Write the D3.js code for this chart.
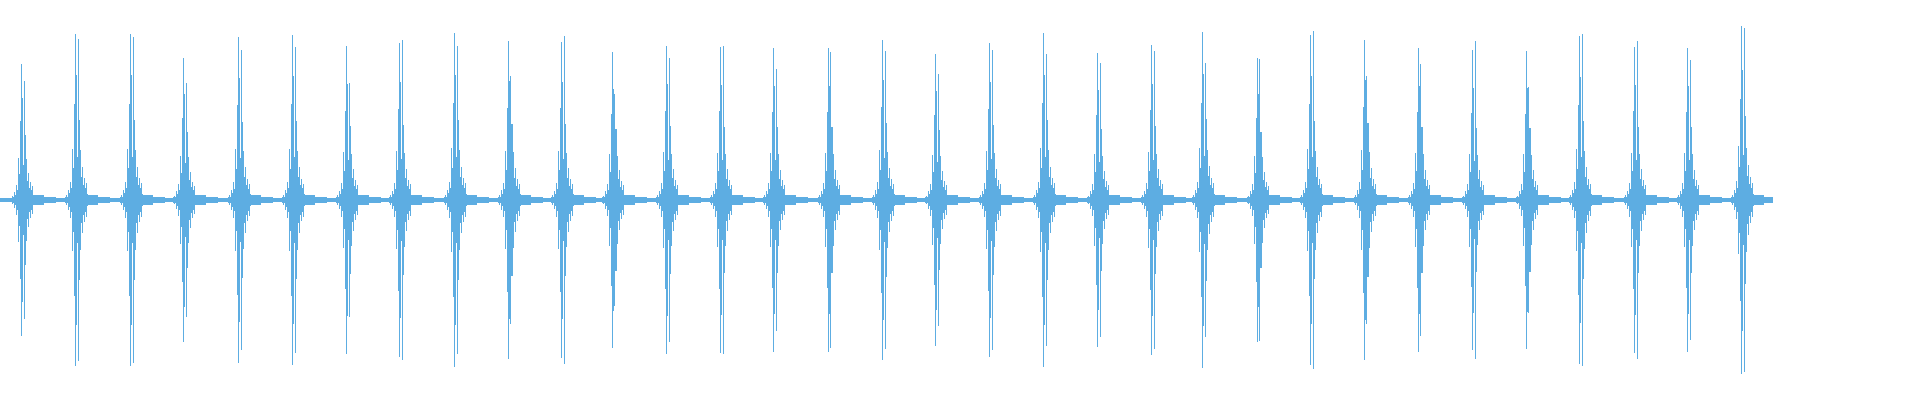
<!DOCTYPE html>
<html>
<head>
<meta charset="utf-8">
<script src="https://cdn.jsdelivr.net/npm/d3@7"></script>
<style>
  html, body { margin: 0; padding: 0; background: #fff; }
  .chart { width: 1920px; height: 400px; }
</style>
</head>
<body>
<div class="chart"></div>
<script>
/*
    Waveform data (one column = one sample bin)
*/
const totalBins = 1773;
const baseLevel = 0.01;

// position of the first spike of each beat
const beatX = [21, 75, 130, 183, 238, 292, 346, 399, 454, 508, 561, 612, 666, 720, 773, 828, 882,
               935, 989, 1043, 1097, 1151, 1202, 1257, 1310, 1364, 1418, 1472, 1526, 1579, 1634, 1687, 1741];
// peak of the first spike
const peak1 = [0.68, 0.83, 0.83, 0.71, 0.815, 0.825, 0.77, 0.785, 0.835, 0.795, 0.79, 0.74, 0.77, 0.765, 0.76, 0.76, 0.80,
               0.73, 0.785, 0.835, 0.735, 0.775, 0.84, 0.71, 0.825, 0.80, 0.76, 0.75, 0.745, 0.82, 0.765, 0.76, 0.87];
// distance (bins) from first to second spike
const gap2 = [3, 3, 3, 3, 3, 3, 3, 3, 3, 2, 3, 2, 3, 3, 3, 2, 3,
              3, 3, 3, 3, 3, 3, 2, 3, 2, 2, 3, 2, 3, 3, 3, 3];
// peak of the second spike
const peak2 = [0.595, 0.805, 0.815, 0.585, 0.75, 0.765, 0.585, 0.80, 0.77, 0.62, 0.82, 0.53, 0.71, 0.77, 0.655, 0.74, 0.745,
               0.63, 0.75, 0.73, 0.685, 0.745, 0.685, 0.705, 0.845, 0.62, 0.68, 0.795, 0.565, 0.83, 0.795, 0.70, 0.86];

// shape of one burst around the first spike (fraction of peak1), offsets -10..+12
const burstOffset = [-10, -9, -8, -7, -6, -5, -4, -3, -2, -1, 0, 1, 2, 3, 4, 5, 6, 7, 8, 9, 10, 11, 12];
const burstLevel  = [0.018, 0.03, 0.02, 0.06, 0.04, 0.11, 0.07, 0.31, 0.19, 0.58, 1, 0.75, 0.26,
                     0.48, 0.48, 0.30, 0.14, 0.20, 0.09, 0.13, 0.07, 0.10, 0.035];

// low ringing after each burst (absolute level)
const tailStart = [13, 23, 35];
const tailEnd   = [22, 34, 45];
const tailLevel = [0.025, 0.015, 0.012];

/*
    Build the per-bin peak list
*/
let peaks = new Array(totalBins).fill(baseLevel);

beatX.forEach((bx, b) => {
    tailStart.forEach((s, t) => {
        for (let o = s; o <= tailEnd[t]; o++) {
            const i = bx + o;
            if (i < totalBins) peaks[i] = Math.max(peaks[i], tailLevel[t]);
        }
    });
    burstOffset.forEach((o, k) => {
        const i = bx + o;
        if (i >= 0 && i < totalBins) peaks[i] = Math.max(baseLevel, burstLevel[k] * peak1[b]);
    });
    peaks[bx] = peak1[b];
    peaks[bx + gap2[b]] = peak2[b];
});

/* Scales */
const width = 1920, height = 400;

let xScale = d3.scaleLinear()
                .domain([0, 1920])
                .range([0, width]);

let yScale = d3.scaleLinear()
                .domain([-1, 1])
                .range([height, 0]);

let container = d3.select('.chart').append('svg')
                    .attr('width', width)
                    .attr('height', height);

/* Rendering */
container.append('g')
    .attr('fill', '#5dade2')
    .attr('shape-rendering', 'crispEdges')
    .selectAll('rect')
    .data(peaks)
    .join('rect')
        .attr('x', (d, i) => xScale(i))
        .attr('width', (d, i) => xScale(i + 1) - xScale(i))
        .attr('y', d => Math.round(yScale(d)))
        .attr('height', d => Math.max(1, Math.round(yScale(-d)) - Math.round(yScale(d))));
</script>
</body>
</html>
